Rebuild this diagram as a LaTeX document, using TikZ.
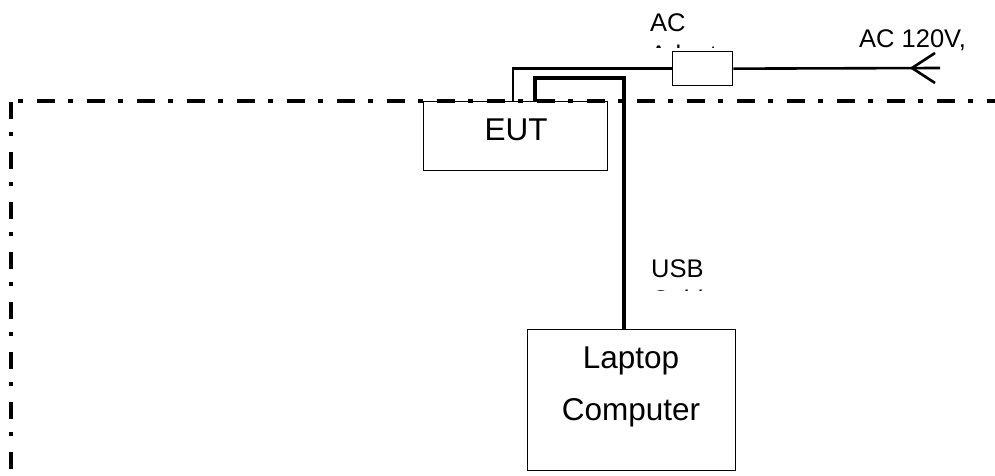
\documentclass[tikz,border=0pt]{standalone}
\usepackage{fontspec}
\setmainfont{Liberation Sans}
\begin{document}
\begin{tikzpicture}[x=1pt,y=-1pt,
  box/.style={draw, line width=1.3pt, inner sep=0pt},
  boundary/.style={line width=4pt},
  acwire/.style={line width=2.6pt},
  usbwire/.style={line width=3.6pt},
  lbl/.style={font=\fontsize{25.5}{30}\selectfont, inner sep=0pt, anchor=base west},
  big/.style={font=\fontsize{31.5}{38}\selectfont, inner sep=0pt, anchor=base}]
\useasboundingbox (0,0) rectangle (995,476);
% boxes
\node[box, minimum width=184pt, minimum height=69pt, anchor=north west] (eut) at (423,101) {};
\node[box, minimum width=60pt, minimum height=34pt, anchor=north west] (adapter) at (672,51) {};
\node[box, minimum width=208pt, minimum height=141pt, anchor=north west] (laptop) at (527,329) {};
% texts
\node[big] (euttext) at (516,140) {EUT};
\node[big] (laptoptext) at (631,368) {Laptop};
\node[big] (computertext) at (631,420) {Computer};
\node[lbl] (actext) at (650,32) {AC};
\node[lbl] (ac120) at (859,48) {AC 120V,};
\node[lbl] (usbtext) at (651,277) {USB};
\begin{scope}
  \clip (600,36) rectangle (760,48);
  \node[lbl] (adaptertext) at (650,64) {Adapter};
\end{scope}
\begin{scope}
  \clip (600,281) rectangle (760,290);
  \node[lbl] (cabletext) at (651,308) {Cable};
\end{scope}
% boundary
\draw[boundary, dash pattern=on 5pt off 14pt on 18pt off 13pt] (18,101) -- (995,101);
\draw[boundary, dash pattern=on 17pt off 13pt on 4pt off 16pt] (11,102) -- (11,476);
% wires
\coordinate (eutac) at (513,101);
\coordinate (eutusb) at (535,101);
\coordinate (lapusb) at (624,329);
\coordinate (plug) at (940,68);
\coordinate (vtip) at (912,68);
\draw[acwire] (eutac) |- (adapter.west);
\draw[acwire] (adapter.east) -- (plug);
\draw[acwire] ([shift={(23,-15)}]vtip) -- (vtip) -- ([shift={(23,15)}]vtip);
\draw[usbwire] (eutusb) -- ++(0,-23) -| (lapusb);
\end{tikzpicture}
\end{document}
